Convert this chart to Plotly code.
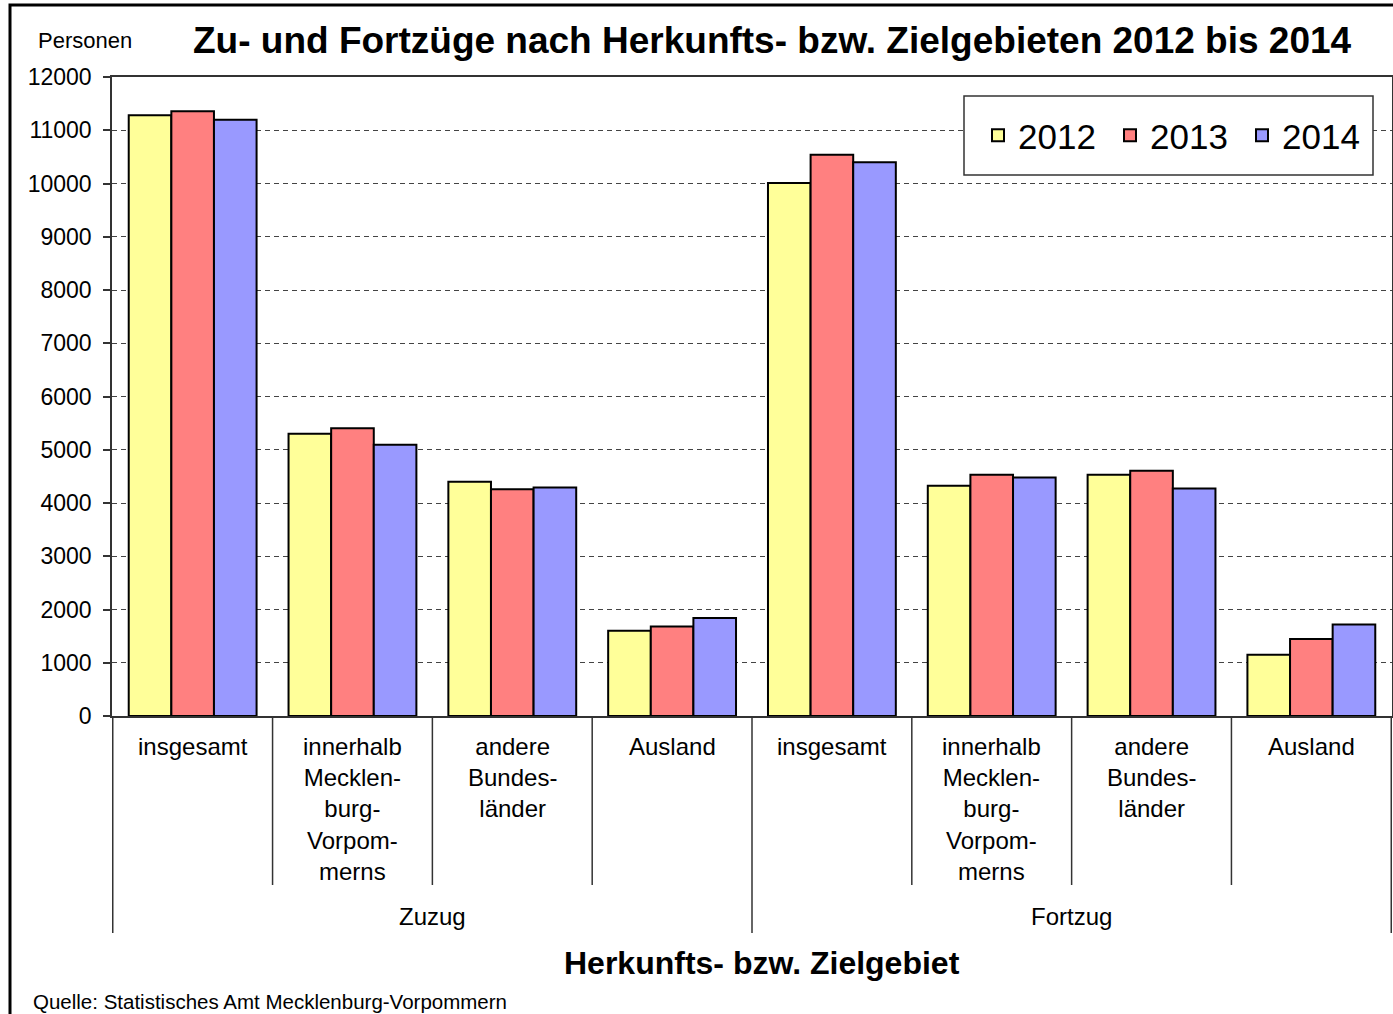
import plotly.graph_objects as go

# ---- data ----
directions = ["Zuzug", "Fortzug"]
areas = [
    "insgesamt",
    "innerhalb<br>Mecklen-<br>burg-<br>Vorpom-<br>merns",
    "andere<br>Bundes-<br>länder",
    "Ausland",
]
categories = [f"{d}: {a}" for d in directions for a in areas]
years = ["2012", "2013", "2014"]
values_2012 = [11280, 5300, 4400, 1600, 10010, 4325, 4530, 1150]
values_2013 = [11355, 5405, 4260, 1680, 10540, 4530, 4605, 1445]
values_2014 = [11195, 5095, 4290, 1840, 10400, 4480, 4270, 1720]
colors = ["#FFFF99", "#FF8080", "#9999FF"]

FONT = "Liberation Sans, Arial, sans-serif"

fig = go.Figure()
for name, vals, col in zip(years, [values_2012, values_2013, values_2014], colors):
    fig.add_trace(go.Bar(
        name=name, x=categories, y=vals,
        marker=dict(color=col, line=dict(color="black", width=2)),
    ))

W, H = 1393, 1014
L, R, T, B = 112, 1, 77, 298
PH = H - T - B

def py(pix):
    return (H - B - pix) / PH

def px(pix):
    return (pix - L) / (W - L - R)

annotations = []
# inner labels
for i, cat in enumerate(categories):
    annotations.append(dict(
        x=cat, xref="x", y=py(731), yref="paper", yanchor="top",
        text=areas[i % len(areas)], showarrow=False, align="center",
        font=dict(family=FONT, size=24, color="black"),
    ))
# outer labels
n_in = len(areas)
for j, d in enumerate(directions):
    annotations.append(dict(
        x=j * n_in + (n_in - 1) / 2, xref="x", y=py(916), yref="paper",
        yanchor="middle", text=d, showarrow=False,
        font=dict(family=FONT, size=24, color="black"),
    ))
# axis title
annotations.append(dict(
    x=px(762), xref="paper", y=py(963), yref="paper",
    yanchor="middle", text="<b>Herkunfts- bzw. Zielgebiet</b>", showarrow=False,
    font=dict(family=FONT, size=32, color="black"),
))
# title
annotations.append(dict(
    x=px(772), xref="paper", y=py(40), yref="paper", yanchor="middle",
    text="<b>Zu- und Fortzüge nach Herkunfts- bzw. Zielgebieten 2012 bis 2014</b>",
    showarrow=False, font=dict(family=FONT, size=37, color="black"),
))
# Personen
annotations.append(dict(
    x=px(36), xref="paper", xanchor="left", y=py(40), yref="paper",
    yanchor="middle", text="Personen", showarrow=False,
    font=dict(family=FONT, size=22, color="black"),
))
# source
annotations.append(dict(
    x=px(31), xref="paper", xanchor="left", y=py(1001), yref="paper",
    yanchor="middle", text="Quelle: Statistisches Amt Mecklenburg-Vorpommern",
    showarrow=False, font=dict(family=FONT, size=20.5, color="black"),
))

shapes = []
n_cat = len(categories)
for k in range(n_cat + 1):
    xpos = k - 0.5
    outer = (k % n_in == 0)
    shapes.append(dict(
        type="line", xref="x", yref="paper", x0=xpos, x1=xpos,
        y0=0, y1=py(933) if outer else py(885),
        line=dict(color="#333333", width=1.5),
    ))
# outer frame
shapes.append(dict(
    type="rect", xref="paper", yref="paper",
    x0=px(10), x1=px(W + 20), y0=py(H + 20), y1=py(5),
    line=dict(color="black", width=3), fillcolor="rgba(0,0,0,0)",
))
# legend frame
shapes.append(dict(
    type="rect", xref="paper", yref="paper", layer="above",
    x0=px(964), x1=px(1373), y0=py(175), y1=py(96),
    line=dict(color="#333333", width=1.5), fillcolor="white",
))

fig.update_layout(
    width=W, height=H,
    margin=dict(l=L, r=R, t=T, b=B, autoexpand=False),
    paper_bgcolor="white", plot_bgcolor="white",
    barmode="group", bargap=0.2, bargroupgap=0,
    font=dict(family=FONT, color="black"),
    showlegend=True,
    legend=dict(
        orientation="h", x=px(978), y=py(135.5), xanchor="left", yanchor="middle",
        borderwidth=0, bgcolor="rgba(0,0,0,0)",
        font=dict(family=FONT, size=35, color="black"),
        entrywidth=87, traceorder="normal",
    ),
    xaxis=dict(
        type="category", showticklabels=False, ticks="",
        showline=True, linecolor="#333333", linewidth=1.5, mirror=True,
        showgrid=False, zeroline=False,
    ),
    yaxis=dict(
        range=[0, 12000], dtick=1000, tickformat="d",
        ticks="outside", ticklen=7, tickcolor="#333333", tickwidth=1.5,
        ticklabelstandoff=7,
        tickfont=dict(family=FONT, size=23, color="black"),
        showline=True, linecolor="#333333", linewidth=1.5, mirror=True,
        showgrid=True, gridcolor="#444444", gridwidth=1, griddash="5px,4px",
        zeroline=False,
    ),
    annotations=annotations,
    shapes=shapes,
)

fig.write_html("out.html", config={"displayModeBar": False},
               post_script="document.body.style.margin='0';")
